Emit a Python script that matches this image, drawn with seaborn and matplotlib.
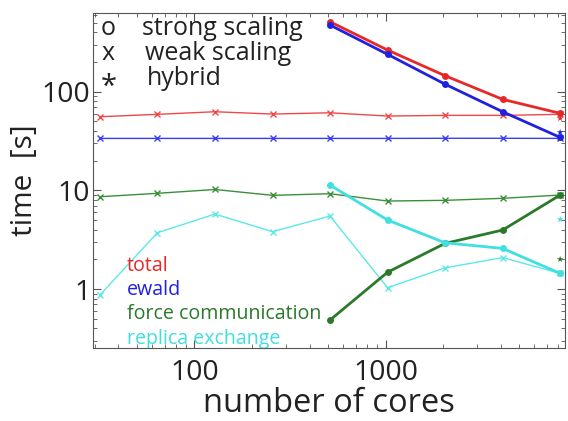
import numpy as np
import pandas as pd
import matplotlib.pyplot as plt
import seaborn as sns
from matplotlib.ticker import LogLocator, FixedLocator, FixedFormatter, NullFormatter

sns.set_style('ticks')
plt.rcParams['font.family'] = ['Open Sans', 'DejaVu Sans']

# cores for each type of run
cores_weak = [32, 64, 128, 256, 512, 1024, 2048, 4096, 8192]
cores_strong = [512, 1024, 2048, 4096, 8192]
cores_hybrid = [8192]

# weak scaling, time [s]
weak_total = [55.7, 58.9, 62.6, 59.3, 61.1, 56.6, 57.5, 57.5, 58.9]
weak_ewald = [33.6, 33.6, 33.6, 33.6, 33.6, 33.6, 33.7, 33.7, 33.6]
weak_force = [8.61, 9.33, 10.2, 8.90, 9.24, 7.79, 7.92, 8.30, 8.96]
weak_replica = [0.87, 3.72, 5.75, 3.81, 5.49, 1.03, 1.64, 2.08, 1.44]

# strong scaling, time [s]
strong_total = [511, 264, 145, 83.6, 60.3]
strong_ewald = [473, 239, 119, 62.6, 34.4]
strong_force = [0.485, 1.48, 2.90, 3.96, 8.96]
strong_replica = [11.3, 5.0, 2.94, 2.58, 1.44]

# hybrid, time [s]
hybrid_total = [53.6]
hybrid_ewald = [38.7]
hybrid_force = [2.0]
hybrid_replica = [5.08]

parts = ['total', 'ewald', 'force communication', 'replica exchange']

def long_df(cores, series):
    rows = []
    for name, vals in zip(parts, series):
        for c, v in zip(cores, vals):
            rows.append({'cores': c, 'time': v, 'part': name})
    return pd.DataFrame(rows)

weak = long_df(cores_weak, [weak_total, weak_ewald, weak_force, weak_replica])
strong = long_df(cores_strong, [strong_total, strong_ewald, strong_force, strong_replica])
hybrid = long_df(cores_hybrid, [hybrid_total, hybrid_ewald, hybrid_force, hybrid_replica])

weak_pal = {'total': '#f04848', 'ewald': '#3c3cf0', 'force communication': '#3a8f3a', 'replica exchange': '#5ce8e8'}
strong_pal = {'total': '#e82828', 'ewald': '#2020e0', 'force communication': '#2a7a2a', 'replica exchange': '#40e0e0'}

fig = plt.figure(figsize=(5.68, 4.21), dpi=100)
ax = fig.add_axes([0.164, 0.174, 0.831, 0.794])

sns.lineplot(data=weak, x='cores', y='time', hue='part', palette=weak_pal,
             marker='x', markersize=4, markeredgewidth=1, markeredgecolor='auto',
             linewidth=1, legend=False, ax=ax)
sns.lineplot(data=strong, x='cores', y='time', hue='part', palette=strong_pal,
             marker='o', markersize=5, markeredgewidth=0, linewidth=2,
             legend=False, ax=ax)
sns.scatterplot(data=hybrid, x='cores', y='time', hue='part', palette=strong_pal,
                marker='*', s=25, linewidth=0, legend=False, ax=ax)

ax.set_xscale('log')
ax.set_yscale('log')
ax.set_xlim(29.5, 8700)
ax.set_ylim(0.254, 620)

ax.xaxis.set_major_locator(FixedLocator([100, 1000]))
ax.xaxis.set_major_formatter(FixedFormatter(['100', '1000']))
ax.xaxis.set_minor_locator(LogLocator(base=10, subs=np.arange(2, 10)))
ax.xaxis.set_minor_formatter(NullFormatter())
ax.yaxis.set_major_locator(FixedLocator([1, 10, 100]))
ax.yaxis.set_major_formatter(FixedFormatter(['1', '10', '100']))
ax.yaxis.set_minor_locator(LogLocator(base=10, subs=np.arange(2, 10)))
ax.yaxis.set_minor_formatter(NullFormatter())

ax.tick_params(which='both', direction='in', top=True, right=True, color='#555555')
ax.tick_params(which='major', length=6, width=0.8, labelsize=20.5, labelcolor='#222222')
ax.tick_params(axis='x', which='major', pad=8)
ax.tick_params(axis='y', which='major', pad=2)
ax.tick_params(which='minor', length=3, width=0.6)
for s in ax.spines.values():
    s.set_color('#555555')
    s.set_linewidth(0.8)

ax.set_xlabel('number of cores', fontsize=23.5, color='#222222', labelpad=0)
ax.set_ylabel('time  [s]', fontsize=21.5, color='#222222', labelpad=2)

# symbol key
tk = dict(transform=ax.transAxes, fontsize=18, color='#222222', va='baseline')
ax.text(0.032, 0.937, 'o', ha='center', **tk)
ax.text(0.104, 0.937, 'strong scaling', ha='left', **tk)
ax.text(0.032, 0.861, 'x', ha='center', **tk)
ax.text(0.110, 0.861, 'weak scaling', ha='left', **tk)
ax.text(0.032, 0.756, '*', ha='center', transform=ax.transAxes, fontsize=21,
        color='#222222', va='baseline')
ax.text(0.114, 0.786, 'hybrid', ha='left', **tk)

# colour key
ys = [0.2305, 0.1587, 0.086, 0.012]
for name, y in zip(parts, ys):
    ax.text(0.072, y, name, transform=ax.transAxes, fontsize=14.1,
            color=strong_pal[name], va='baseline', ha='left', clip_on=True)

fig.savefig('out.png', dpi=100)
